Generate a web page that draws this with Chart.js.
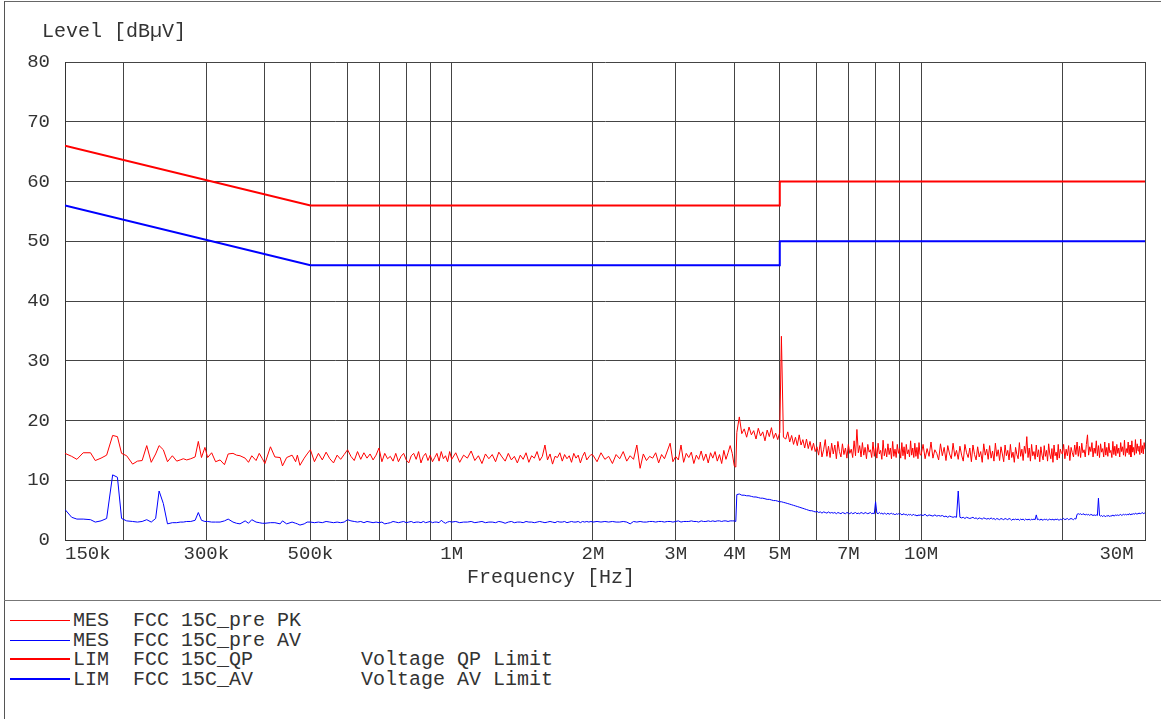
<!DOCTYPE html>
<html>
<head>
<meta charset="utf-8">
<script src="https://cdn.jsdelivr.net/npm/chart.js@4.4.1/dist/chart.umd.min.js"></script>
<style>
  html, body { margin: 0; padding: 0; background: #fff; }
  #wrap { position: relative; width: 1161px; height: 719px; overflow: hidden; background: #fff; }
  #c { position: absolute; left: 0; top: 0; }
  .frameTop { position: absolute; left: 4px; top: 1px; width: 1157px; height: 1px; background: #666; }
  .frameLeft { position: absolute; left: 4px; top: 1px; width: 1px; height: 718px; background: #555; }
  .sep { position: absolute; left: 4px; top: 600px; width: 1157px; height: 1px; background: #777; }
  .sw { position: absolute; left: 10px; width: 60px; }
  .lg { position: absolute; left: 73px; font: 20px 'Liberation Mono', 'DejaVu Sans Mono', monospace; color: #333; white-space: pre; line-height: 20px; }
</style>
</head>
<body>
<div id="wrap">
  <canvas id="c" width="1161" height="600"></canvas>
  <div class="frameTop"></div>
  <div class="frameLeft"></div>
  <div class="sep"></div>
  <div class="sw" style="top:620px;height:1px;background:#ff0000"></div>
  <div class="lg" style="top:611px">MES  FCC 15C_pre PK</div>
  <div class="sw" style="top:640px;height:1px;background:#0000ff"></div>
  <div class="lg" style="top:631px">MES  FCC 15C_pre AV</div>
  <div class="sw" style="top:658px;height:2px;background:#ff0000"></div>
  <div class="lg" style="top:650px">LIM  FCC 15C_QP         Voltage QP Limit</div>
  <div class="sw" style="top:678px;height:2px;background:#0000ff"></div>
  <div class="lg" style="top:670px">LIM  FCC 15C_AV         Voltage AV Limit</div>
</div>
<script>
// ---------- DATA (frequencies in kHz, levels in dBµV) ----------
const freqKHz = [
  150,155,159,164,170,174,179,184,189.5,194, 198,203,209,214,219,224,229,234,238,243,
  248,254,259.5,264,268,272.5,278,284,288.5,293, 298,302,308,314,321,328,334,342,348,354,
  363,369,375,383,389,395,400,411,420,431, 436,445,457,465,469,475,
  485,492,500,510,520,530,540,550,560,570,580,590,
  600,610,620,630,640,650,660,670,680,690,
  700,710,720,730,740,750,760,770,780,790,
  800,810,820,830,840,850,860,870,880,890,
  900,910,920,930,940,950,960,970,980,990,
  1000,1020,1040,1060,1080,1100,1120,1140,1160,1180,
  1200,1220,1240,1260,1280,1300,1320,1340,1360,1380,
  1400,1420,1440,1460,1480,1500,1520,1540,1560,1580,
  1600,1620,1640,1660,1680,1700,1720,1740,1760,1780,
  1800,1820,1840,1860,1880,1900,1920,1940,1960,1980,
  2000,2040,2080,2120,2160,2200,2240,2280,2320,2360,
  2400,2440,2480,2520,2560,2600,2640,2680,2720,2760,
  2800,2840,2880,2920,2960,3000,3040,3080,3120,3160,
  3200,3240,3280,3320,3360,3400,3440,3480,3520,3560,
  3600,3640,3680,3720,3760,3800,3840,3880,3920,3960,
  4000,4030,
  4050,4100,4150,4200,4250,4300,4350,4400,4450,4500,4550,4600,4650,4700,4750,4800,4850,4900,4950,
  5000,5040,5090,
  5150,5200,5250,5300,5350,5400,5450,5500,5550,5600,5650,5700,5750,5800,5850,5900,5950,
  6000,6050,6100,6150,6200,6250,6300,6350,6400,6450,
  6500,6550,6600,6650,6700,6750,6800,6850,6900,6950,
  7000,7050,7100,7150,7200,7250,7300,7350,7400,7450,
  7500,7550,7600,7650,7700,7750,7800,7850,7900,7950,
  8000,8050,8100,8150,8200,8250,8300,8350,8400,8450,
  8500,8550,8600,8650,8700,8750,8800,8850,8900,8950,
  9000,9050,9100,9150,9200,9250,9300,9350,9400,9450,
  9500,9550,9600,9650,9700,9750,9800,9850,9900,9950,
  10000,10100,10200,10300,10400,10500,10600,10700,10800,10900,
  11000,11100,11200,11300,11400,11500,11600,11700,11800,11900,
  12000,12100,12200,12300,12400,12500,12600,12700,12800,12900,
  13000,13100,13200,13300,13400,13500,13600,13700,13800,13900,
  14000,14100,14200,14300,14400,14500,14600,14700,14800,14900,
  15000,15100,15200,15300,15400,15500,15600,15700,15800,15900,
  16000,16100,16200,16300,16400,16500,16600,16700,16800,16900,
  17000,17100,17200,17300,17400,17500,17600,17700,17800,17900,
  18000,18100,18200,18300,18400,18500,18600,18700,18800,18900,
  19000,19100,19200,19300,19400,19500,19600,19700,19800,19900,
  20000,20125,20250,20375,20500,20625,20750,20875,21000,21125,
  21250,21375,21500,21625,21750,21875,22000,22125,22250,22375,
  22500,22625,22750,22875,23000,23125,23250,23375,23500,23625,
  23750,23875,24000,24125,24250,24375,24500,24625,24750,24875,
  25000,25125,25250,25375,25500,25625,25750,25875,26000,26125,
  26250,26375,26500,26625,26750,26875,27000,27125,27250,27375,
  27500,27625,27750,27875,28000,28125,28250,28375,28500,28625,
  28750,28875,29000,29125,29250,29375,29500,29625,29750,29875,
  30000
];

const pkLevel = [
  14.5,14.0,13.5,14.6,14.6,13.3,13.7,14.2,17.5,17.3, 14.5,14.1,12.7,13.2,13.3,15.8,13.0,14.4,15.8,15.1,
  13.1,14.1,13.2,13.4,13.6,13.4,13.6,13.9,16.5,13.8, 15.5,13.8,14.6,13.1,13.4,12.6,14.4,14.5,14.2,14.1,
  13.7,13.0,14.1,13.3,14.5,13.6,12.8,15.6,13.9,13.8, 12.4,13.8,14.2,13.1,14.2,12.5,
  13.7,14.4,15.1,13.1,14.5,13.4,14.7,13.6,12.9,14.2,13.5,14.3,
  15.1,14.0,13.3,14.8,13.5,14.6,13.7,14.4,13.4,14.2,
  15.4,13.1,14.5,13.6,14.0,13.2,14.5,13.1,14.0,14.5,
  13.4,12.9,14.1,14.5,13.5,14.8,12.9,14.0,14.5,13.3,
  14.2,13.1,13.8,14.5,13.2,14.8,13.6,14.1,13.1,14.8,
  13.5,14.6,13.0,14.2,13.7,14.9,13.3,14.1,12.8,14.4,
  13.6,14.3,13.1,14.7,13.9,13.2,14.5,13.4,14.0,12.9,
  14.2,13.5,14.6,13.0,14.1,13.7,14.8,13.3,14.0,15.9,
  13.4,14.4,12.7,14.0,13.8,14.6,13.2,14.3,13.6,14.1,
  13.0,14.5,13.7,14.2,12.9,14.0,14.7,13.4,13.9,14.3,
  14.2,13.1,14.6,13.5,14.0,12.8,14.3,13.6,14.8,13.2,
  14.1,13.5,15.9,12.0,14.4,13.3,14.0,13.7,14.6,12.9,
  14.3,13.6,14.9,16.2,13.1,14.0,13.4,15.9,13.0,14.5,
  13.8,14.7,12.8,14.2,13.5,14.9,13.3,14.4,12.9,14.6,
  13.7,14.8,13.2,14.3,12.8,15.0,13.5,14.6,15.8,14.5,
  12.4,12.2,
  18.0,20.6,17.8,18.6,17.2,18.9,17.6,18.3,16.9,18.7,17.4,18.1,16.6,18.4,17.3,18.8,17.0,17.9,16.8,
  18.0,34.1,17.2,
  16.9,18.1,16.4,17.5,16.0,17.2,15.8,17.6,15.9,16.8,15.4,16.9,15.3,16.5,15.0,16.2,14.8,
  15.6,14.2,16.4,13.9,15.1,16.8,14.0,15.7,13.8,16.2,
  14.4,15.9,13.6,16.5,14.8,13.9,16.1,14.3,15.4,13.7,
  16.0,14.5,15.2,13.8,16.6,14.1,18.5,14.6,15.8,13.9,
  16.3,14.2,15.5,13.6,16.0,14.7,15.1,13.8,16.4,14.0,
  15.6,13.7,16.2,14.4,15.0,13.5,16.7,14.1,15.3,13.9,
  16.1,14.3,15.4,13.6,16.5,14.0,15.2,13.8,16.0,14.5,
  15.3,13.7,16.3,14.1,15.6,13.5,16.0,14.4,15.1,13.9,
  16.6,14.2,15.4,13.8,16.2,14.0,15.5,13.6,16.3,14.3,
  14.2,16.0,13.6,15.3,14.0,16.4,13.7,15.1,14.5,13.4,
  16.1,14.1,15.5,13.3,15.8,14.4,13.6,16.2,14.0,15.0,
  13.5,15.7,14.2,13.2,16.0,14.6,13.8,15.4,13.1,15.9,
  14.3,13.4,15.6,13.9,14.8,13.0,16.1,14.2,15.2,13.5,
  15.8,13.7,14.9,13.2,16.2,14.0,15.1,13.3,15.6,14.4,
  13.1,15.9,14.1,15.0,13.4,16.0,13.8,14.7,13.0,15.5,
  14.3,13.6,16.3,14.0,15.2,13.3,15.7,14.5,17.3,13.8,
  15.4,13.2,16.0,14.1,14.8,13.5,15.9,13.9,15.1,13.1,
  15.6,14.2,13.4,15.8,14.0,15.0,13.2,16.1,14.4,13.6,
  15.3,13.0,15.9,14.1,14.7,13.4,16.0,13.7,15.2,14.6,
  14.4,16.0,13.6,15.2,14.1,15.8,13.3,15.5,14.6,13.9,
  15.9,14.3,16.4,14.0,15.7,13.8,16.2,14.6,15.1,13.9,
  16.0,17.6,14.2,15.6,14.8,16.3,13.9,15.4,14.5,16.6,
  14.1,15.8,13.8,16.1,14.7,15.3,13.9,16.4,14.2,15.5,
  14.0,16.2,14.6,15.0,13.8,16.5,14.3,15.7,14.1,16.0,
  14.5,15.4,13.9,16.3,14.8,15.6,14.2,16.7,14.0,15.3,
  14.6,16.4,14.3,15.9,13.9,16.6,14.7,15.5,14.2,16.8,
  14.5,16.1,14.9,15.7,14.3,16.9,14.6,15.8,14.4,16.3,
  15.2
];

const avLevel = [
  5.1,3.8,3.5,3.5,3.4,3.0,3.2,3.6,10.9,10.5, 3.6,3.2,3.1,3.0,3.1,3.4,3.0,3.6,8.2,6.1,
  2.7,2.9,2.9,3.0,3.0,3.1,3.1,3.3,4.6,3.3, 3.1,3.1,3.0,3.0,3.0,3.2,3.5,3.0,2.8,2.7,
  3.2,2.8,3.4,3.0,2.9,2.8,2.8,2.9,2.9,2.7, 3.2,2.7,3.0,2.8,2.7,2.5,
  2.7,3.0,3.0,2.9,3.0,2.9,3.1,3.0,2.9,3.0,2.9,3.0,
  3.4,3.2,3.1,3.0,3.1,2.9,3.1,3.0,2.9,3.0,
  2.9,3.0,2.7,2.8,2.9,3.1,3.0,2.9,3.0,3.1,
  2.9,3.0,3.1,2.9,3.0,3.0,2.9,3.1,2.9,3.0,
  3.1,2.9,3.0,3.0,2.9,3.3,3.0,2.8,3.0,3.1,
  3.0,3.1,2.9,3.0,3.0,3.1,2.9,3.0,3.1,2.9,
  3.0,3.0,2.9,3.1,3.0,2.8,3.0,3.1,2.9,3.0,
  3.0,2.9,3.1,3.0,3.0,2.9,3.0,3.1,3.0,2.9,
  3.0,3.1,3.0,2.9,3.1,3.0,3.0,3.1,2.9,3.0,
  3.1,3.0,3.0,3.1,2.9,3.1,3.0,3.1,3.0,3.1,
  3.0,3.1,3.0,3.1,3.0,3.1,3.0,3.0,3.1,3.0,
  2.7,3.1,3.0,3.1,3.0,3.0,3.1,3.1,3.0,3.1,
  3.1,3.0,3.1,3.1,3.0,3.1,3.2,3.0,3.1,3.1,
  3.1,3.2,3.1,3.1,3.0,3.2,3.1,3.1,3.2,3.1,
  3.2,3.1,3.2,3.2,3.1,3.2,3.2,3.1,3.2,3.2,
  3.2,3.1,
  7.6,7.7,7.5,7.5,7.4,7.4,7.3,7.2,7.2,7.1,7.0,7.0,6.9,6.8,6.8,6.7,6.6,6.6,6.5,
  6.4,6.4,6.3,
  6.2,6.1,6.0,5.9,5.8,5.7,5.6,5.5,5.4,5.3,5.2,5.1,5.0,4.9,4.9,4.8,4.7,
  4.8,4.6,4.7,4.5,4.7,4.6,4.5,4.7,4.5,4.6,
  4.5,4.6,4.4,4.6,4.5,4.4,4.6,4.5,4.4,4.6,
  4.5,4.4,4.6,4.4,4.5,4.6,4.4,4.5,4.4,4.6,
  4.5,4.4,4.6,4.5,4.4,4.5,4.6,4.4,4.5,4.4,
  6.4,4.5,4.4,4.6,4.4,4.5,4.3,4.5,4.4,4.3,
  4.5,4.3,4.4,4.5,4.3,4.4,4.2,4.4,4.3,4.4,
  4.3,4.4,4.2,4.3,4.4,4.2,4.3,4.1,4.3,4.2,
  4.3,4.1,4.2,4.3,4.1,4.2,4.0,4.2,4.1,4.2,
  4.2,4.1,4.3,4.0,4.2,4.1,4.0,4.2,4.0,4.1,
  4.0,4.1,3.9,4.0,3.8,4.0,3.9,3.8,3.9,3.8,
  8.2,3.8,3.7,3.8,3.6,3.8,3.7,3.6,3.7,3.8,
  3.6,3.7,3.5,3.7,3.6,3.5,3.7,3.6,3.5,3.6,
  3.5,3.7,3.5,3.6,3.4,3.6,3.5,3.4,3.6,3.5,
  3.4,3.6,3.5,3.4,3.6,3.5,3.3,3.5,3.4,3.5,
  3.4,3.5,3.3,3.5,3.4,3.5,3.3,3.5,3.4,3.4,
  3.5,3.3,3.5,3.4,3.5,3.4,4.2,3.4,3.5,3.3,
  3.5,3.4,3.3,3.5,3.4,3.5,3.3,3.4,3.5,3.4,
  3.4,3.5,3.3,3.5,3.4,3.5,3.4,3.3,3.5,3.4,
  3.5,3.6,3.4,3.5,3.6,3.4,3.5,3.6,3.5,3.4,
  3.6,3.5,4.3,4.4,4.3,4.4,4.2,4.4,4.3,4.2,
  4.3,4.2,4.3,4.1,4.3,4.2,4.1,4.2,4.1,4.2,
  4.1,7.0,4.1,4.0,4.1,3.9,4.1,4.0,3.9,4.1,
  4.0,4.1,3.9,4.1,4.0,4.2,4.0,4.1,4.2,4.1,
  4.2,4.1,4.2,4.3,4.1,4.2,4.3,4.2,4.3,4.2,
  4.3,4.2,4.4,4.3,4.2,4.4,4.3,4.4,4.3,4.5,
  4.4,4.3,4.5,4.4,4.5,4.4,4.5,4.6,4.4,4.5,
  4.5
];

// Limit lines
const limitFreqKHz = [150, 500, 5000, 5000, 30000];
const qpLimit = [66, 56, 56, 60, 60];
const avLimit = [56, 46, 46, 50, 50];

// Axis ticks
const gridFreqKHz = [150,200,300,400,500,600,700,800,900,1000,2000,3000,4000,5000,6000,7000,8000,9000,10000,20000,30000];
const labeledFreqKHz = [150,300,500,1000,2000,3000,4000,5000,7000,10000,30000];
const labeledText = ['150k','300k','500k','1M','2M','3M','4M','5M','7M','10M','30M'];
const yTicks = [0,10,20,30,40,50,60,70,80];

// ---------- CHART ----------
const FONT = "'Liberation Mono', 'DejaVu Sans Mono', monospace";
const TXT = '#333333';
const pairs = (xs, ys) => xs.map((x, i) => ({ x: x, y: ys[i] }));

new Chart(document.getElementById('c').getContext('2d'), {
  type: 'line',
  data: {
    datasets: [
      { label: 'MES FCC 15C_pre PK', data: pairs(freqKHz, pkLevel), borderColor: '#ff0000', borderWidth: 1, pointRadius: 0, tension: 0, fill: false },
      { label: 'MES FCC 15C_pre AV', data: pairs(freqKHz, avLevel), borderColor: '#0000ff', borderWidth: 1, pointRadius: 0, tension: 0, fill: false },
      { label: 'LIM FCC 15C_QP', data: pairs(limitFreqKHz, qpLimit), borderColor: '#ff0000', borderWidth: 2, pointRadius: 0, tension: 0, fill: false },
      { label: 'LIM FCC 15C_AV', data: pairs(limitFreqKHz, avLimit), borderColor: '#0000ff', borderWidth: 2, pointRadius: 0, tension: 0, fill: false }
    ]
  },
  options: {
    responsive: false,
    animation: false,
    devicePixelRatio: 1,
    events: [],
    layout: { padding: { left: 6, right: 16, top: 0, bottom: 0 } },
    plugins: {
      legend: { display: false },
      tooltip: { enabled: false },
      title: {
        display: true, text: '   Level [dBµV]', align: 'start', color: TXT,
        font: { family: FONT, size: 20, weight: 'normal', lineHeight: 1.2 },
        padding: { top: 20, bottom: 18 }
      }
    },
    scales: {
      x: {
        type: 'logarithmic', min: 150, max: 30000,
        afterBuildTicks: (s) => { s.ticks = gridFreqKHz.map(v => ({ value: v })); },
        afterFit: (s) => { s.height = 60; s.paddingLeft = 0; s.paddingRight = 0; },
        ticks: {
          autoSkip: false, maxRotation: 0, minRotation: 0, padding: 3, color: TXT,
          font: { family: FONT, size: 19 },
          callback: (v) => {
            const i = labeledFreqKHz.indexOf(v);
            if (i < 0) return '';
            if (v === 150) return '    ' + labeledText[i];
            if (v === 30000) return labeledText[i] + '     ';
            return labeledText[i];
          }
        },
        grid: { color: '#444', lineWidth: 1, drawTicks: false },
        border: { display: true, color: '#333', width: 1 },
        title: {
          display: true, text: 'Frequency [Hz]         ', color: TXT,
          font: { family: FONT, size: 20, lineHeight: 1.2 },
          padding: { top: 0, bottom: 10 }
        }
      },
      y: {
        type: 'linear', min: 0, max: 80,
        afterBuildTicks: (s) => { s.ticks = yTicks.map(v => ({ value: v })); },
        afterFit: (s) => { s.width = 59; s.paddingTop = 0; s.paddingBottom = 0; },
        ticks: { padding: 15, color: TXT, font: { family: FONT, size: 19 } },
        grid: { color: '#444', lineWidth: 1, drawTicks: false },
        border: { display: true, color: '#333', width: 1 }
      }
    }
  }
});
</script>
</body>
</html>
